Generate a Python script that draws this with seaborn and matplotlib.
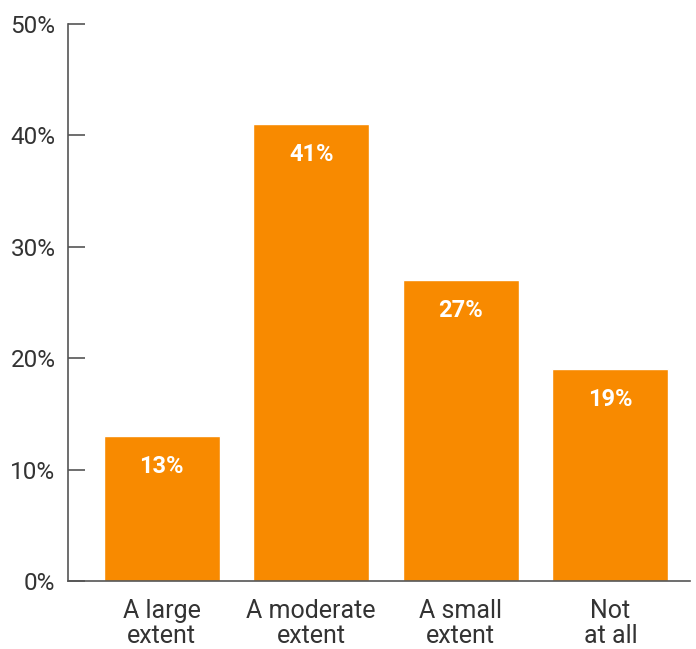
import matplotlib
matplotlib.use("Agg")
import matplotlib.pyplot as plt
from matplotlib.ticker import PercentFormatter
import seaborn as sns
import pandas as pd

categories = ["A large\nextent", "A moderate\nextent", "A small\nextent", "Not\nat all"]
values = [13, 41, 27, 19]
value_labels = ["13%", "41%", "27%", "19%"]

sns.set_style("white")
plt.rcParams["font.family"] = ["Roboto", "DejaVu Sans"]

df = pd.DataFrame({"category": categories, "value": values})

fig = plt.figure(figsize=(6.96, 6.49), dpi=100)
ax = fig.add_axes([0.0977, 0.1048, 0.8933, 0.8582])

sns.barplot(data=df, x="category", y="value", color="#F88A00", saturation=1,
            width=0.775, ax=ax)

# value labels inside the bars, near the top
for patch, lab in zip(ax.patches, value_labels):
    x = patch.get_x() + patch.get_width() / 2
    ax.text(x, patch.get_height() - 2.75, lab, ha="center", va="center",
            color="white", fontsize=17, fontweight="bold")

ax.set_ylim(0, 50)
ax.set_xlim(-0.625, 3.53)
ax.set_yticks([0, 10, 20, 30, 40, 50])
ax.yaxis.set_major_formatter(PercentFormatter(decimals=0))
ax.set_xlabel("")
ax.set_ylabel("")

for s in ["top", "right"]:
    ax.spines[s].set_visible(False)
for s in ["left", "bottom"]:
    ax.spines[s].set_color("#555555")
    ax.spines[s].set_linewidth(1.2)

ax.tick_params(axis="y", direction="in", length=12, width=1.2, color="#555555",
               labelsize=17.5, labelcolor="#333333", pad=9, left=True)
ax.tick_params(axis="x", length=0, labelsize=18, labelcolor="#333333", pad=13)
for t in ax.get_xticklabels():
    t.set_linespacing(1.05)

fig.savefig("out.png", dpi=100, facecolor="white")
